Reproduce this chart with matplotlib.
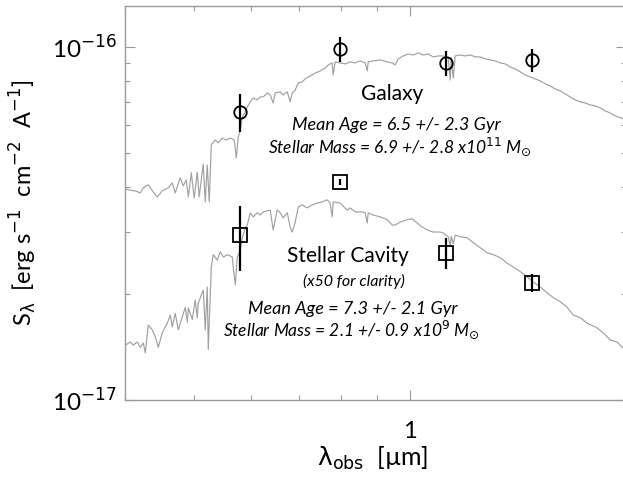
import matplotlib.pyplot as plt
from matplotlib.ticker import LogLocator, NullFormatter

plt.rcParams['font.family'] = ['Lato', 'DejaVu Sans']
plt.rcParams['mathtext.fontset'] = 'dejavusans'

# model spectra, wavelength in micron, flux in units of 1e-17 erg/s/cm2/A
gal_wave = [0.4005, 0.4069, 0.4135, 0.4202, 0.4243, 0.4311, 0.4381, 0.4437, 0.4509, 0.4597,
            0.4656, 0.4701, 0.4777, 0.4824, 0.4871, 0.4903, 0.4950, 0.4996, 0.5045, 0.5077,
            0.5143, 0.5177, 0.5210, 0.5244, 0.5278, 0.5346, 0.5398, 0.5467, 0.5538, 0.5610,
            0.5682, 0.5719, 0.5756, 0.5793, 0.5831, 0.5887, 0.5925, 0.5982, 0.6039, 0.6117,
            0.6176, 0.6237, 0.6318, 0.6378, 0.6439, 0.6481, 0.6586, 0.6650, 0.6737, 0.6801,
            0.6846, 0.6912, 0.6978, 0.7068, 0.7137, 0.7206, 0.7300, 0.7371, 0.7443, 0.7540,
            0.7613, 0.7684, 0.7783, 0.7808, 0.7858, 0.7986, 0.8116, 0.8247, 0.8381, 0.8517,
            0.8653, 0.8710, 0.8738, 0.8880, 0.9082, 0.9288, 0.9438, 0.9530, 0.9622, 0.9777,
            0.9936, 1.0097, 1.0261, 1.0426, 1.0595, 1.0766, 1.0941, 1.1118, 1.1298, 1.1371,
            1.1407, 1.1482, 1.1556, 1.1741, 1.1933, 1.2126, 1.2322, 1.2522, 1.2724, 1.2931,
            1.3139, 1.3353, 1.3570, 1.3791, 1.4011, 1.4240, 1.4471, 1.4706, 1.4943, 1.5185,
            1.5431, 1.5680, 1.5934, 1.6189, 1.6452, 1.6718, 1.6988, 1.7262, 1.7541, 1.7824,
            1.8113, 1.8408, 1.8707, 1.9006, 1.9316, 1.9631, 2.001]
gal_flux = [3.96, 3.93, 3.91, 3.86, 3.99, 4.07, 3.88, 3.76, 3.91, 3.99,
            4.12, 3.86, 4.26, 4.04, 4.20, 3.76, 4.40, 3.73, 4.42, 3.76,
            4.66, 3.64, 4.63, 3.64, 5.28, 5.45, 5.35, 5.52, 5.45, 5.52,
            5.45, 4.85, 5.56, 5.82, 6.33, 6.55, 6.76, 6.99, 7.17, 7.08,
            7.22, 7.22, 7.41, 7.31, 6.94, 7.41, 7.46, 7.31, 7.46, 6.99,
            7.41, 7.55, 7.91, 7.96, 8.12, 8.22, 8.33, 8.44, 8.50, 8.61,
            8.72, 8.89, 9.01, 8.33, 9.07, 9.01, 8.95, 9.07, 9.01, 9.13,
            9.01, 8.55, 9.07, 9.13, 9.19, 9.07, 9.01, 8.89, 9.25, 9.43,
            9.55, 9.49, 9.62, 9.49, 9.55, 9.37, 9.43, 9.43, 9.31, 8.06,
            9.31, 8.17, 9.43, 9.49, 9.43, 9.49, 9.37, 9.37, 9.25, 9.19,
            9.13, 9.01, 8.95, 8.78, 8.66, 8.50, 8.33, 8.22, 8.12, 8.01,
            7.86, 7.75, 7.60, 7.51, 7.36, 7.22, 7.08, 6.99, 6.94, 6.85,
            6.81, 6.72, 6.59, 6.50, 6.38, 6.30, 6.21]

cav_wave = [0.4005, 0.4069, 0.4108, 0.4161, 0.4202, 0.4243, 0.4270, 0.4311, 0.4367, 0.4409,
            0.4452, 0.4509, 0.4582, 0.4627, 0.4656, 0.4701, 0.4747, 0.4808, 0.4855, 0.4887,
            0.4903, 0.4966, 0.5013, 0.5045, 0.5061, 0.5143, 0.5177, 0.5210, 0.5227, 0.5278,
            0.5312, 0.5381, 0.5433, 0.5486, 0.5557, 0.5646, 0.5664, 0.5701, 0.5738, 0.5793,
            0.5831, 0.5887, 0.5925, 0.5982, 0.6039, 0.6117, 0.6176, 0.6237, 0.6378, 0.6439,
            0.6522, 0.6586, 0.6650, 0.6737, 0.6801, 0.6846, 0.6912, 0.6978, 0.7068, 0.7183,
            0.7300, 0.7416, 0.7540, 0.7658, 0.7733, 0.7783, 0.7808, 0.7986, 0.8167, 0.8247,
            0.8381, 0.8571, 0.8653, 0.8710, 0.8738, 0.8880, 0.9082, 0.9288, 0.9438, 0.9530,
            0.9685, 0.9904, 1.0065, 1.0228, 1.0392, 1.0561, 1.0766, 1.1011, 1.1118, 1.1298,
            1.1371, 1.1407, 1.1482, 1.1556, 1.1741, 1.2009, 1.2244, 1.2522, 1.2807, 1.3057,
            1.3353, 1.3658, 1.3925, 1.4240, 1.4565, 1.4846, 1.5185, 1.5532, 1.5832, 1.6189,
            1.6558, 1.6877, 1.7262, 1.7655, 1.8231, 1.8586, 1.9006, 1.9440, 1.9756, 2.001]
cav_flux = [1.43, 1.46, 1.43, 1.46, 1.41, 1.45, 1.36, 1.63, 1.58, 1.51,
            1.41, 1.55, 1.65, 1.74, 1.61, 1.76, 1.58, 1.72, 1.83, 1.66,
            1.82, 1.69, 1.92, 1.71, 1.88, 2.05, 1.58, 2.09, 1.39, 2.38,
            2.58, 2.49, 2.63, 2.54, 2.58, 2.54, 2.38, 2.12, 2.54, 2.66,
            2.88, 3.07, 3.13, 3.39, 3.30, 3.39, 3.34, 3.41, 3.45, 3.03,
            3.45, 3.39, 3.28, 3.39, 3.09, 2.99, 3.19, 3.52, 3.57, 3.50,
            3.57, 3.61, 3.64, 3.69, 3.61, 3.30, 3.64, 3.61, 3.45, 3.50,
            3.41, 3.41, 3.39, 3.17, 3.39, 3.34, 3.30, 3.24, 3.13, 3.13,
            3.19, 3.24, 3.26, 3.17, 3.09, 3.03, 2.99, 2.99, 2.97, 2.90,
            2.73, 2.91, 2.77, 2.93, 2.90, 2.88, 2.79, 2.70, 2.61, 2.58,
            2.53, 2.44, 2.38, 2.31, 2.23, 2.16, 2.09, 2.01, 1.95, 1.90,
            1.83, 1.74, 1.71, 1.65, 1.60, 1.55, 1.48, 1.46, 1.41, 1.39]

# photometry (same bands for both)
phot_wave = [0.579, 0.799, 1.123, 1.480]
gal_phot = [6.54, 9.87, 9.01, 9.19]
gal_err = [0.80, 0.83, 0.73, 0.69]
cav_phot = [2.93, 4.14, 2.61, 2.145]
cav_err = [0.61, 0.08, 0.26, 0.125]

unit = 1e-17

fig = plt.figure(figsize=(6.23, 4.8), dpi=100)
ax = fig.add_axes([0.2006, 0.1667, 0.8042, 0.8208])

spec_col = '#a0a0a0'
ax.plot(gal_wave, [f * unit for f in gal_flux], color=spec_col, lw=0.85)
ax.plot(cav_wave, [f * unit for f in cav_flux], color=spec_col, lw=0.85)

ax.errorbar(phot_wave, [f * unit for f in gal_phot], yerr=[e * unit for e in gal_err],
            fmt='o', ms=9, mfc='none', mec='k', mew=1.3, ecolor='k', elinewidth=1.6, capsize=0)
ax.errorbar(phot_wave, [f * unit for f in cav_phot], yerr=[e * unit for e in cav_err],
            fmt='s', ms=9.5, mfc='none', mec='k', mew=1.3, ecolor='k', elinewidth=1.6, capsize=0)

ax.set_xscale('log')
ax.set_yscale('log')
ax.set_xlim(0.4, 2.0)
ax.set_ylim(1e-17, 1.306e-16)

ax.set_xticks([1], ['1'])
ax.xaxis.set_minor_locator(LogLocator(base=10, subs=range(2, 10)))
ax.xaxis.set_minor_formatter(NullFormatter())
ax.set_yticks([1e-17, 1e-16], ['10$^{-17}$', '10$^{-16}$'])
ax.yaxis.set_minor_locator(LogLocator(base=10, subs=range(2, 10)))
ax.yaxis.set_minor_formatter(NullFormatter())

frame_col = '#999999'
for sp in ax.spines.values():
    sp.set_color(frame_col)
    sp.set_linewidth(1.0)
ax.tick_params(which='both', direction='in', top=True, right=True, color=frame_col, width=0.8)
ax.tick_params(which='major', length=7.2)
ax.tick_params(which='minor', length=3.6)
ax.tick_params(axis='x', pad=15, labelsize=17)
ax.tick_params(axis='y', pad=6, labelsize=17.5)

ax.set_xlabel(r'$\mathrm{\lambda}_{\rm obs}$  [µm]', fontsize=18)
ax.xaxis.set_label_coords(0.495, -0.113)
ax.set_ylabel(r'S$_{\mathrm{\lambda}}$  [erg s$^{-1}$  cm$^{-2}$  A$^{-1}$]', fontsize=17)
ax.yaxis.set_label_coords(-0.203, 0.5)
ax.yaxis.label.set_verticalalignment('center')

# annotations
ax.text(0.533, 0.777, 'Galaxy', transform=ax.transAxes, ha='center', va='center', fontsize=15)
ax.text(0.541, 0.698, 'Mean Age = 6.5 +/- 2.3 Gyr', transform=ax.transAxes,
        ha='center', va='center', fontsize=13, style='italic')
ax.text(0.549, 0.642, r'Stellar Mass = 6.9 +/- 2.8 x10$^{11}$ M$_{\odot}$', transform=ax.transAxes,
        ha='center', va='center', fontsize=12.5, style='italic')
ax.text(0.445, 0.365, 'Stellar Cavity', transform=ax.transAxes, ha='center', va='center', fontsize=15)
ax.text(0.457, 0.302, '(x50 for clarity)', transform=ax.transAxes,
        ha='center', va='center', fontsize=11.5, style='italic')
ax.text(0.455, 0.231, 'Mean Age = 7.3 +/- 2.1 Gyr', transform=ax.transAxes,
        ha='center', va='center', fontsize=13, style='italic')
ax.text(0.453, 0.178, r'Stellar Mass = 2.1 +/- 0.9 x10$^{9}$ M$_{\odot}$', transform=ax.transAxes,
        ha='center', va='center', fontsize=12.5, style='italic')

fig.savefig('out.png', dpi=100)
